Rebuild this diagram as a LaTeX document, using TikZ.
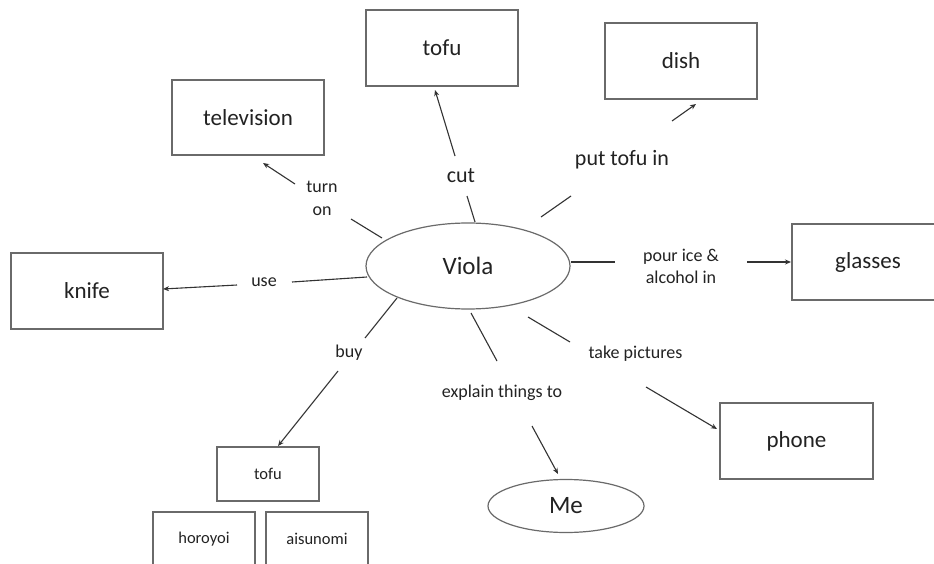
\documentclass[tikz,border=0pt]{standalone}
\usepackage{fontspec}
\setmainfont{Carlito}
\usetikzlibrary{arrows.meta}
\definecolor{boxline}{HTML}{6A6A6A}
\definecolor{conn}{HTML}{333333}
\definecolor{txt}{HTML}{222222}
\tikzset{
  box/.style={draw=boxline, line width=1.2pt, minimum width=152pt, minimum height=76pt,
    inner sep=0pt, text=txt, font=\fontsize{23}{27}\selectfont},
  smallbox/.style={box, minimum width=102pt, minimum height=54pt, font=\fontsize{16.5}{20}\selectfont},
  oval/.style={draw=boxline, line width=1.2pt, ellipse, inner sep=0pt, text=txt,
    font=\fontsize{25}{30}\selectfont},
  lbl/.style={text=txt, inner sep=0pt, align=center, font=\fontsize{18}{23}\selectfont},
  biglbl/.style={lbl, font=\fontsize{22}{26}\selectfont},
  link/.style={draw=conn, line width=1.1pt},
  arr/.style={link, -{Stealth[length=6pt,width=5pt]}}
}
\usetikzlibrary{shapes.geometric}
\begin{document}
\begin{tikzpicture}[x=1pt, y=-1pt]
\useasboundingbox (0,0) rectangle (934,564);
\clip (0,0) rectangle (934,564);
\fill[white] (0,0) rectangle (934,564);

% central person and the listener
\node[oval, minimum width=204pt, minimum height=86pt] (viola) at (468,266) {Viola};
\node[oval, minimum width=156pt, minimum height=53pt] (me) at (566,506) {Me};

% objects
\node[box] (tofu) at (442,48) {tofu};
\node[box, minimum height=75pt] (tv) at (248,117.5) {television};
\node[box] (dish) at (681,61) {dish};
\node[box] (knife) at (87,291) {knife};
\node[box] (glasses) at (868,262) {glasses};
\node[box, minimum width=153pt] (phone) at (796.5,441) {phone};

% shopping list
\node[smallbox] (tofu2) at (268,474) {tofu};
\node[smallbox] (horoyoi) at (204,539) {horoyoi};
\node[smallbox] (aisunomi) at (317,539) {aisunomi};

% relation labels
\node[biglbl] (lcut) at (461,176) {cut};
\node[lbl] (lturn) at (322,198) {turn\\on};
\node[lbl] (luse) at (264,282) {use};
\node[biglbl] (lput) at (622,160) {put tofu in};
\node[lbl, font=\fontsize{18}{22}\selectfont] (lpour) at (681,266) {pour ice \&\\alcohol in};
\node[lbl] (lpict) at (635.5,354) {take pictures};
\node[lbl] (lexp) at (502,393) {explain things to};
\node[lbl] (lbuy) at (349,353) {buy};

% connectors: Viola -> label -> object
\draw[link] ([shift={(7,-44)}]viola.center) -- ([shift={(6,20)}]lcut.center);
\draw[arr] ([shift={(-6,-20)}]lcut.center) -- ([shift={(-7,42)}]tofu.center);

\draw[link] ([shift={(-86,-28)}]viola.center) -- ([shift={(29,21)}]lturn.center);
\draw[arr] ([shift={(-27,-14)}]lturn.center) -- ([shift={(15,45.5)}]tv.center);

\draw[link] ([shift={(-101,11)}]viola.center) -- ([shift={(28,0)}]luse.center);
\draw[arr] ([shift={(-27,3)}]luse.center) -- ([shift={(76,-2)}]knife.center);

\draw[link] ([shift={(73,-49)}]viola.center) -- ([shift={(-51,36)}]lput.center);
\draw[arr] ([shift={(50,-39)}]lput.center) -- ([shift={(15,43)}]dish.center);

\draw[link] ([shift={(103,-4)}]viola.center) -- ([shift={(-66,-4)}]lpour.center);
\draw[arr] ([shift={(66,-4)}]lpour.center) -- ([shift={(-77,0)}]glasses.center);

\draw[link] ([shift={(60,51)}]viola.center) -- ([shift={(-65.5,-12)}]lpict.center);
\draw[arr] ([shift={(10.5,33)}]lpict.center) -- ([shift={(-79.5,-12)}]phone.center);

\draw[link] ([shift={(3,47)}]viola.center) -- ([shift={(-5,-32)}]lexp.center);
\draw[arr] ([shift={(30,33)}]lexp.center) -- ([shift={(-8,-32)}]me.center);

\draw[link] ([shift={(-71,32)}]viola.center) -- ([shift={(16,-15)}]lbuy.center);
\draw[arr] ([shift={(-11,18)}]lbuy.center) -- ([shift={(10,-28)}]tofu2.center);
\end{tikzpicture}
\end{document}
